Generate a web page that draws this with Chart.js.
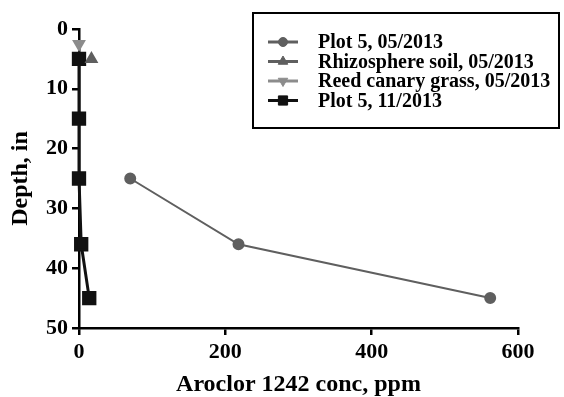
<!DOCTYPE html>
<html>
<head>
<meta charset="utf-8">
<script src="https://cdn.jsdelivr.net/npm/chart.js@4.4.1/dist/chart.umd.min.js"></script>
<style>
  html, body { margin: 0; padding: 0; background: #fff; }
  #wrap { width: 564px; height: 397px; }
</style>
</head>
<body>
<div id="wrap"><canvas id="myChart" width="564" height="397"></canvas></div>
<script>
  "use strict";

  // series labels
  var seriesNames = [
    "Plot 5, 05/2013",
    "Rhizosphere soil, 05/2013",
    "Reed canary grass, 05/2013",
    "Plot 5, 11/2013",
  ];

  // Aroclor 1242 conc (ppm) and depth (in) for each series
  var plot5MayConc = [70, 218, 562];
  var plot5MayDepth = [25, 36, 45];

  var rhizoConc = [17];
  var rhizoDepth = [5];

  var reedConc = [0];
  var reedDepth = [2.5];

  var plot5NovConc = [0, 0, 0, 3, 14];
  var plot5NovDepth = [5, 15, 25, 36, 45];

  var xTicks = [0, 200, 400, 600];
  var yTicks = [0, 10, 20, 30, 40, 50];

  function pairs(xs, ys) {
    return xs.map(function (x, i) {
      return { x: x, y: ys[i] };
    });
  }

  var fontFamily = "'Liberation Serif', 'Times New Roman', serif";
  var legendMarkerSize = [4.5, 5.5, 5.5, 6.5];

  // legend box drawn inside the plot, like the original figure
  var boxLegend = {
    id: "boxLegend",
    afterDraw: function (chart) {
      var ctx = chart.ctx;
      ctx.save();
      ctx.strokeStyle = "#000";
      ctx.lineWidth = 2;
      ctx.strokeRect(253, 13, 306, 115);
      chart.data.datasets.forEach(function (ds, i) {
        var y = 42 + i * 19.5;
        ctx.strokeStyle = ds.borderColor;
        ctx.lineWidth = 3;
        ctx.beginPath();
        ctx.moveTo(268, y);
        ctx.lineTo(298, y);
        ctx.stroke();
        ctx.fillStyle = ds.pointBackgroundColor;
        ctx.lineWidth = 1;
        Chart.helpers.drawPoint(ctx, {
          pointStyle: ds.pointStyle,
          radius: legendMarkerSize[i],
          rotation: ds.pointRotation || 0,
          borderWidth: 1,
        }, 283, y);
        ctx.fillStyle = "#000";
        ctx.font = "bold 20px " + fontFamily;
        ctx.textAlign = "left";
        ctx.textBaseline = "middle";
        ctx.fillText(seriesNames[i], 318, y + 1);
      });
      ctx.restore();
    },
  };

  var ctx = document.getElementById("myChart").getContext("2d");
  var chart1 = new Chart(ctx, {
    type: "scatter",
    data: {
      datasets: [
        {
          label: seriesNames[0],
          data: pairs(plot5MayConc, plot5MayDepth),
          showLine: true,
          clip: false,
          borderColor: "#5f5f5f",
          backgroundColor: "#5f5f5f",
          pointBackgroundColor: "#5f5f5f",
          borderWidth: 2,
          pointStyle: "circle",
          pointRadius: 5,
        },
        {
          label: seriesNames[1],
          data: pairs(rhizoConc, rhizoDepth),
          showLine: true,
          clip: false,
          borderColor: "#5f5f5f",
          backgroundColor: "#5f5f5f",
          pointBackgroundColor: "#5f5f5f",
          borderWidth: 2,
          pointStyle: "triangle",
          pointRadius: 6,
        },
        {
          label: seriesNames[2],
          data: pairs(reedConc, reedDepth),
          showLine: true,
          clip: false,
          borderColor: "#8c8c8c",
          backgroundColor: "#8c8c8c",
          pointBackgroundColor: "#8c8c8c",
          borderWidth: 2,
          pointStyle: "triangle",
          pointRotation: 180,
          pointRadius: 6,
        },
        {
          label: seriesNames[3],
          data: pairs(plot5NovConc, plot5NovDepth),
          showLine: true,
          clip: false,
          borderColor: "#111",
          backgroundColor: "#111",
          pointBackgroundColor: "#111",
          borderWidth: 3,
          pointStyle: "rect",
          pointRadius: 8,
        },
      ],
    },
    options: {
      responsive: false,
      animation: false,
      layout: { padding: { top: 29, right: 46, bottom: 0, left: 0 } },
      plugins: {
        legend: { display: false },
        tooltip: { enabled: false },
      },
      scales: {
        x: {
          type: "linear",
          min: 0,
          max: 600,
          afterBuildTicks: function (scale) {
            scale.ticks = xTicks.map(function (v) { return { value: v }; });
          },
          afterFit: function (scale) { scale.height = 69; },
          border: { display: true, color: "#000", width: 2.5 },
          grid: {
            drawOnChartArea: false,
            drawTicks: true,
            tickLength: 7,
            tickColor: "#000",
            lineWidth: 2.5,
          },
          ticks: {
            color: "#000",
            padding: 4,
            maxRotation: 0,
            font: { family: fontFamily, size: 22, weight: "bold" },
          },
          title: {
            display: true,
            text: "Aroclor 1242 conc, ppm",
            color: "#000",
            padding: { top: 0, bottom: 0 },
            font: { family: fontFamily, size: 24, weight: "bold", lineHeight: 1 },
          },
        },
        y: {
          type: "linear",
          reverse: true,
          min: 0,
          max: 50,
          afterBuildTicks: function (scale) {
            scale.ticks = yTicks.map(function (v) { return { value: v }; });
          },
          afterFit: function (scale) { scale.width = 79; },
          border: { display: true, color: "#000", width: 2.5 },
          grid: {
            drawOnChartArea: false,
            drawTicks: true,
            tickLength: 7,
            tickColor: "#000",
            lineWidth: 2.5,
          },
          ticks: {
            color: "#000",
            padding: 4,
            font: { family: fontFamily, size: 22, weight: "bold" },
          },
          title: {
            display: true,
            text: "Depth, in",
            color: "#000",
            padding: { top: 9, bottom: 0 },
            font: { family: fontFamily, size: 24, weight: "bold", lineHeight: 1 },
          },
        },
      },
    },
    plugins: [boxLegend],
  });
</script>
</body>
</html>
